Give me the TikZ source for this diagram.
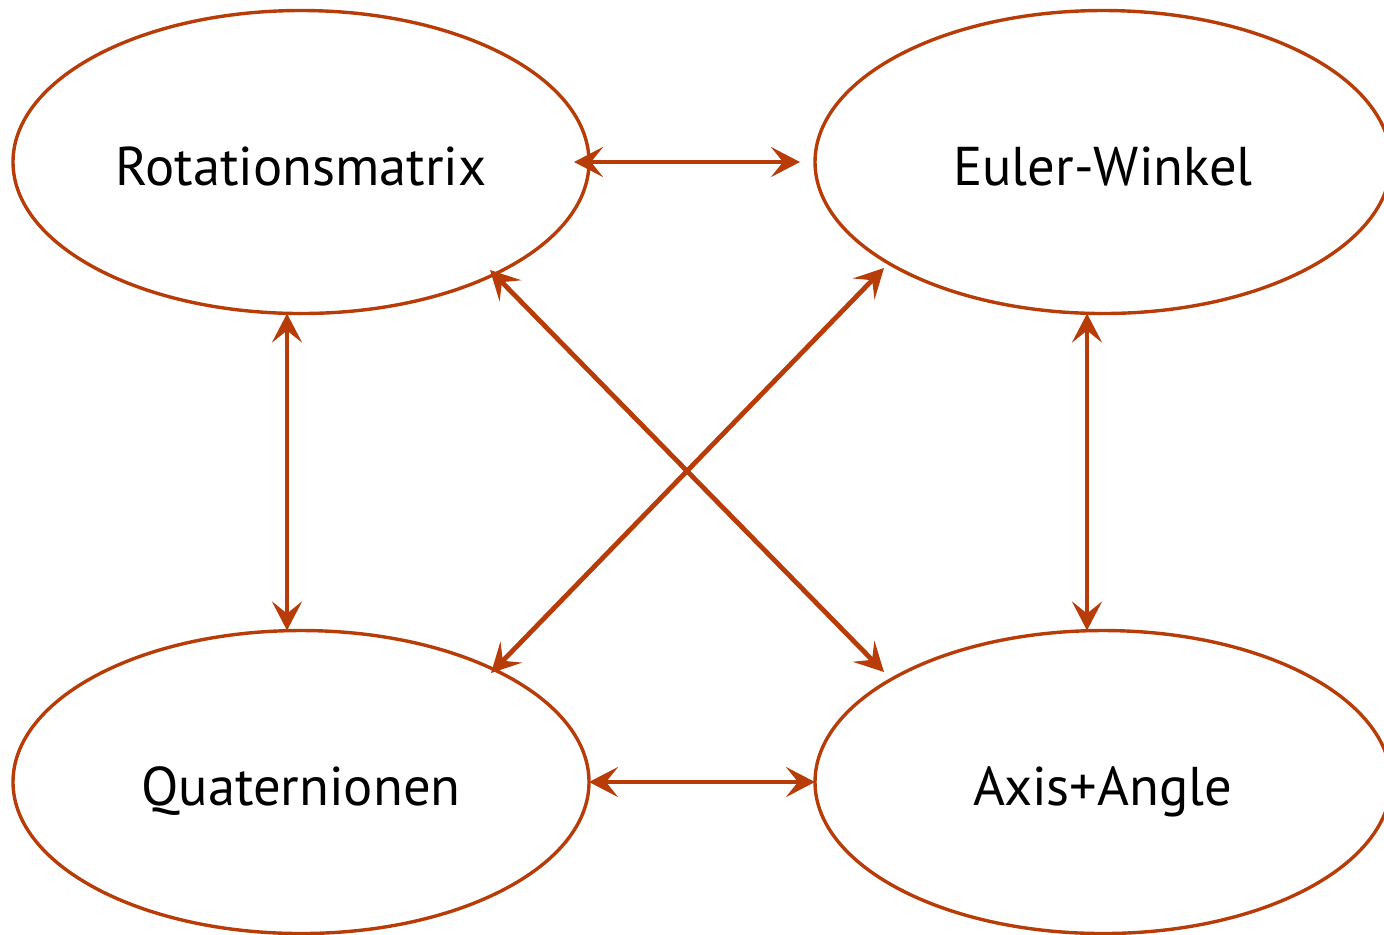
\documentclass[tikz,border=0pt]{standalone}
\usepackage{fontspec}
\setmainfont{PT Sans}
\usetikzlibrary{shapes.geometric,arrows.meta}
\definecolor{rust}{RGB}{184,60,8}
\newcommand{\lbl}[1]{\raisebox{0pt}[23pt][0pt]{#1}}
\begin{document}
\begin{tikzpicture}[x=0.5pt,y=-0.5pt,
  state/.style={ellipse,draw=rust,line width=1.7pt,minimum width=288pt,minimum height=151.5pt,inner sep=0pt,outer sep=0pt,font=\fontsize{27.3}{32}\selectfont},
  conn/.style={draw=rust,line width=2.4pt,{Stealth[length=14.5pt,width=15pt,inset=6pt]}-{Stealth[length=14.5pt,width=15pt,inset=6pt]}}]
\useasboundingbox (0,0) rectangle (1384,934);
\node[state] (rm) at (301,162) {\lbl{Rotationsmatrix}};
\node[state] (ew) at (1103,162) {\lbl{Euler-Winkel}};
\node[state] (q) at (301,782) {\lbl{Quaternionen}};
\node[state] (aa) at (1103,782) {\lbl{Axis+Angle}};
\draw[conn,shorten <=-7.5pt,shorten >=7.5pt] (rm.east) -- (ew.west);
\draw[conn] (q.east) -- (aa.west);
\draw[conn] ([xshift=-7pt]rm.south) -- ([xshift=-7pt]q.north);
\draw[conn] ([xshift=-8pt]ew.south) -- ([xshift=-8pt]aa.north);
\draw[conn] ([shift={(189,108)}]rm.center) -- ([shift={(-219,-110)}]aa.center);
\draw[conn] ([shift={(-219,106)}]ew.center) -- ([shift={(190,-109)}]q.center);
\end{tikzpicture}
\end{document}
